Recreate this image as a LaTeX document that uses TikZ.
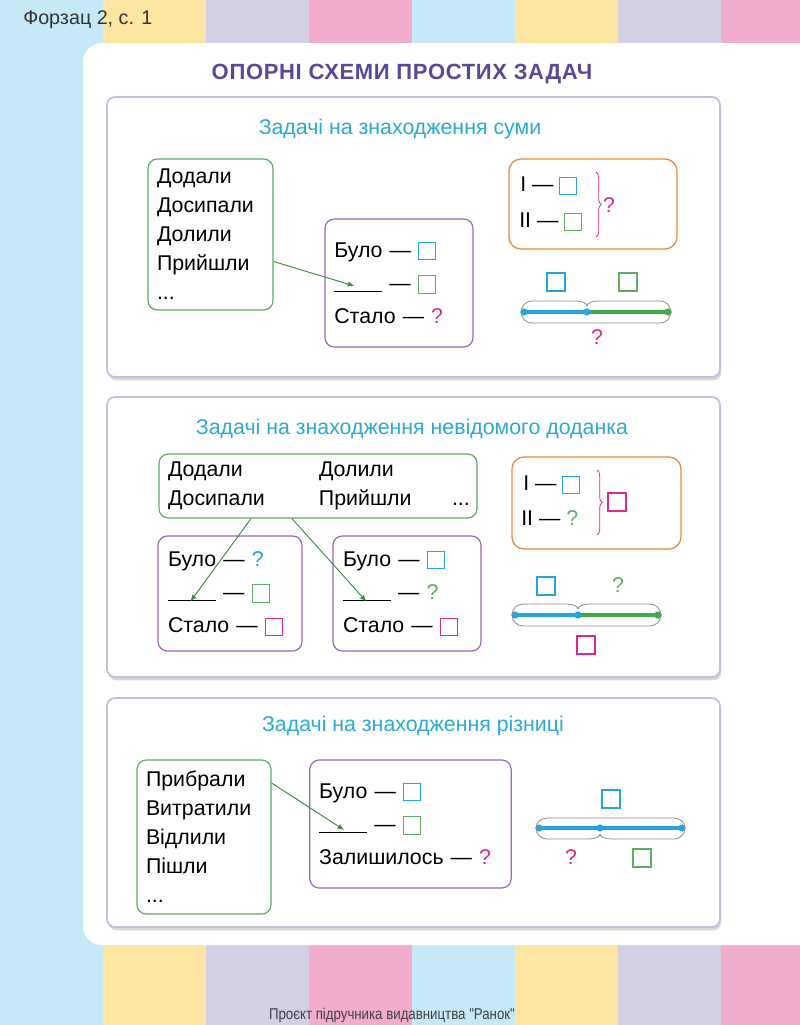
\documentclass[tikz,border=0pt]{standalone}
\usepackage{fontspec}
\setmainfont{Liberation Sans}
\newfontfamily\narrowfont[FakeStretch=0.85]{Liberation Sans}
\newfontfamily\headfont[LetterSpace=3]{Liberation Sans}
\usepackage{tikz}
\usetikzlibrary{arrows.meta,positioning,calc,shadows,decorations.pathreplacing}
\definecolor{fonB}{HTML}{C6E9F8}
\definecolor{fonY}{HTML}{FDE5A2}
\definecolor{fonL}{HTML}{D3D0E6}
\definecolor{fonP}{HTML}{F2ADCE}
\definecolor{ramka}{HTML}{C3BFDD}
\definecolor{titulC}{HTML}{544A9A}
\definecolor{blakC}{HTML}{2BA9D8}
\definecolor{zelC}{HTML}{5CAE60}
\definecolor{fiolC}{HTML}{A066B4}
\definecolor{oranC}{HTML}{EE8A40}
\definecolor{rozhC}{HTML}{DE2A8C}
\definecolor{sinC}{HTML}{22A5E0}
\definecolor{zelL}{HTML}{3FAA48}
\newcommand{\kv}[1]{\raisebox{-1.6pt}{\setlength{\fboxsep}{0pt}\setlength{\fboxrule}{0.7pt}\fcolorbox{#1}{white}{\rule{0pt}{12.1pt}\rule{12.1pt}{0pt}}}}
\newcommand{\pyt}[1]{\textcolor{#1}{?}}
\newcommand{\blank}{\rule[-1pt]{36pt}{0.6pt}}
\newcommand{\hump}[5]{\draw[hump] (#1,#2) .. controls (#1,{#2+0.55*(#5-#2)}) and ({#1+5},#5) .. ({#1+11},#5)
  -- ({#3-11},#5) .. controls ({#3-5},#5) and (#3,{#4+0.55*(#5-#4)}) .. (#3,#4);}
\tikzset{
  panel/.style={draw=ramka, line width=1.3pt, rounded corners=6pt, fill=white,
                drop shadow={opacity=0.3, shadow xshift=1pt, shadow yshift=-2.5pt}},
  ttl/.style={text=blakC, font=\fontsize{16}{19}\selectfont},
  gbox/.style={rectangle, rounded corners=7pt, draw=zelC, line width=0.9pt, align=left,
               inner xsep=6.75pt, font=\fontsize{16}{21.75}\selectfont},
  pbox/.style={rectangle, rounded corners=7pt, draw=fiolC, line width=0.9pt, align=left,
               inner xsep=7pt, font=\fontsize{16}{25}\selectfont},
  obox/.style={rectangle, rounded corners=9pt, draw=oranC, line width=1pt},
  rowt/.style={anchor=west, inner sep=0pt, font=\fontsize{16}{19}\selectfont},
  arr/.style={-{Latex[length=5pt,width=4pt]}, line width=0.7pt, draw=zelL!85!black},
  sq/.style={rectangle, draw=#1, line width=0.8pt, minimum size=13.5pt, inner sep=0pt},
  qm/.style={text=#1, inner sep=0pt, font=\fontsize{16}{19}\selectfont},
  dot/.style={circle, fill=#1, inner sep=0pt, minimum size=5.5pt},
  seg/.style={line width=2.3pt, draw=#1},
  hump/.style={draw=black!45, line width=0.6pt},
  brc/.style={draw=rozhC, line width=0.6pt, decorate, decoration={brace, amplitude=4pt}},
}
\begin{document}
\begin{tikzpicture}[x=0.75pt, y=-0.75pt]
  \useasboundingbox (0,0) rectangle (800,1025);
  \fill[fonB] (0,0) rectangle (800,1025);
  \foreach \xx/\cc in {103/fonY, 206/fonL, 309/fonP, 412/fonB, 515/fonY, 618/fonL, 721/fonP} {
    \fill[\cc] (\xx,0) rectangle (\xx+103,60);
    \fill[\cc] (\xx,930) rectangle (\xx+103,1025);
  }
  \fill[white, rounded corners=14pt] (83,43) rectangle (830,945);
  \node[anchor=west, inner sep=0pt, text=black!80, font=\fontsize{14.8}{17}\selectfont] (fz) at (23,20) {Форзац 2, с. 1};
  \node[text=titulC, font=\headfont\bfseries\fontsize{16.5}{19}\selectfont] (hd) at (402,74) {ОПОРНІ СХЕМИ ПРОСТИХ ЗАДАЧ};
  \node[text=black!75, font=\narrowfont\fontsize{11.7}{14}\selectfont] (ft) at (392,1015) {Проєкт підручника видавництва "Ранок"};

  \draw[panel] (107,97) rectangle (720,377);
  \draw[panel] (107,397) rectangle (720,677);
  \draw[panel] (107,698) rectangle (720,927);

  % сума
  \node[ttl] (t1) at (400,129) {Задачі на знаходження суми};
  \node[gbox, minimum width=93.75pt, text width=80.25pt, minimum height=113.25pt] (g1) at (210.5,234.5)
    {Додали\\Досипали\\Долили\\Прийшли\\...};
  \node[pbox, minimum width=111pt, text width=97pt, minimum height=96pt] (pb1) at (399,283)
    {Було — \kv{sinC}\\\blank\ — \kv{zelC}\\Стало — \pyt{rozhC}};
  \draw[arr] ($(g1.east)+(0,27)$) -- ($(pb1.west)+(30,3)$);
  \node[obox, minimum width=126pt, minimum height=67.5pt] (o1) at (593,204) {};
  \node[rowt] (o1a) at (520,186) {I — \kv{sinC}};
  \node[rowt] (o1b) at (519,222) {II — \kv{zelC}};
  \draw[brc] (596,172) -- (596,237);
  \node[qm=rozhC] (o1q) at (609,205) {?};
  \node[sq=sinC] (u1) at (556,282) {};
  \node[sq=zelC] (v1) at (628,282) {};
  \coordinate (a1) at (524,312);
  \coordinate (m1) at (587,312);
  \coordinate (e1) at (668,312);
  \draw[seg=sinC] (a1) -- (m1);
  \draw[seg=zelL] (m1) -- (e1);
  \node[dot=sinC] (a1d) at (a1) {};
  \node[dot=sinC] (m1d) at (m1) {};
  \node[dot=zelL] (e1d) at (e1) {};
  \hump{521}{312}{587}{306}{301}
  \hump{587}{306}{671}{312}{301}
  \hump{521}{312}{671}{312}{323}
  \node[qm=rozhC] (w1) at (597,337) {?};

  % невідомий доданок
  \node[ttl] (t2) at (412,429) {Задачі на знаходження невідомого доданка};
  \node[gbox, minimum width=238.5pt, text width=225pt, minimum height=48pt] (g2) at (318,486)
    {\makebox[113.25pt][l]{Додали}Долили\\\makebox[113.25pt][l]{Досипали}\makebox[99.75pt][l]{Прийшли}...};
  \node[pbox, minimum width=108pt, text width=93pt, minimum height=86.25pt] (pb2a) at (230,593.5)
    {Було — \pyt{sinC}\\\blank\ — \kv{zelC}\\Стало — \kv{rozhC}};
  \node[pbox, minimum width=111pt, text width=96pt, minimum height=86.25pt] (pb2b) at (407,593.5)
    {Було — \kv{sinC}\\\blank\ — \pyt{zelC}\\Стало — \kv{rozhC}};
  \draw[arr] ($(g2.south)+(-67,0)$) -- ($(pb2a.west)+(33,8)$);
  \draw[arr] ($(g2.south)+(-26,0)$) -- ($(pb2b.west)+(34,8)$);
  \node[obox, minimum width=126.75pt, minimum height=69pt] (o2) at (596.5,503) {};
  \node[rowt] (o2a) at (523,485) {I — \kv{sinC}};
  \node[rowt] (o2b) at (521,518) {II — \pyt{zelC}};
  \draw[brc] (597,470) -- (597,535);
  \node[sq=rozhC] (o2q) at (617,502) {};
  \node[sq=sinC] (u2) at (546,586) {};
  \node[qm=zelC] (v2) at (618,585) {?};
  \coordinate (a2) at (515,615);
  \coordinate (m2) at (578,615);
  \coordinate (e2) at (658,615);
  \draw[seg=sinC] (a2) -- (m2);
  \draw[seg=zelL] (m2) -- (e2);
  \node[dot=sinC] (a2d) at (a2) {};
  \node[dot=sinC] (m2d) at (m2) {};
  \node[dot=zelL] (e2d) at (e2) {};
  \hump{512}{615}{578}{609}{604}
  \hump{578}{609}{661}{615}{604}
  \hump{512}{615}{661}{615}{626}
  \node[sq=rozhC] (w2) at (586,645) {};

  % різниця
  \node[ttl] (t3) at (413,726) {Задачі на знаходження різниці};
  \node[gbox, minimum width=100.5pt, text width=87pt, minimum height=115.5pt] (g3) at (204,837)
    {Прибрали\\Витратили\\Відлили\\Пішли\\...};
  \node[pbox, minimum width=150.75pt, text width=137pt, minimum height=96pt] (pb3) at (410.5,824)
    {Було — \kv{sinC}\\\blank\ — \kv{zelC}\\Залишилось — \pyt{rozhC}};
  \draw[arr] ($(g3.east)+(0,-54)$) -- ($(pb3.west)+(35,6)$);
  \node[sq=sinC] (u3) at (611,799) {};
  \coordinate (a3) at (539,828);
  \coordinate (m3) at (600,828);
  \coordinate (e3) at (682,828);
  \draw[seg=sinC] (a3) -- (m3);
  \draw[seg=sinC, line width=3.2pt] (m3) -- (e3);
  \node[dot=sinC] (a3d) at (a3) {};
  \node[dot=sinC] (m3d) at (m3) {};
  \node[dot=sinC] (e3d) at (e3) {};
  \hump{536}{828}{685}{828}{818}
  \hump{536}{828}{600}{834}{839}
  \hump{600}{834}{685}{828}{839}
  \node[qm=rozhC] (v3) at (571,857) {?};
  \node[sq=zelC] (w3) at (642,858) {};
\end{tikzpicture}
\end{document}
